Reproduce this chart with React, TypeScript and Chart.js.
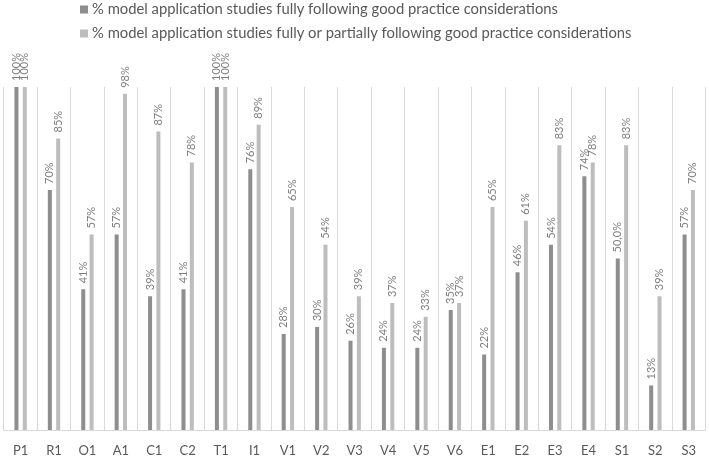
import React, { useEffect, useRef } from "react";
import { Chart, registerables } from "chart.js";

Chart.register(...registerables);

const categories = ["P1","R1","O1","A1","C1","C2","T1","I1","V1","V2","V3","V4","V5","V6","E1","E2","E3","E4","S1","S2","S3"];
const fullyValues = [100,70,41,57,39,41,100,76,28,30,26,24,24,35,22,46,54,74,50,13,57];
const fullyLabels = ["100%","70%","41%","57%","39%","41%","100%","76%","28%","30%","26%","24%","24%","35%","22%","46%","54%","74%","50,0%","13%","57%"];
const partialValues = [100,85,57,98,87,78,100,89,65,54,39,37,33,37,65,61,83,78,83,39,70];
const partialLabels = ["100%","85%","57%","98%","87%","78%","100%","89%","65%","54%","39%","37%","33%","37%","65%","61%","83%","78%","83%","39%","70%"];
const seriesNames = [
  "% model application studies fully following good practice considerations",
  "% model application studies fully or partially following good practice considerations",
];
const seriesColors = ["#8e8e8e", "#bdbdbd"];

const FONT = "Lato, 'Open Sans', sans-serif";

const labelPlugin = {
  id: "barLabels",
  afterDatasetsDraw(chart: any) {
    const ctx = chart.ctx;
    const labelSets = [fullyLabels, partialLabels];
    ctx.save();
    ctx.font = `11px ${FONT}`;
    ctx.fillStyle = "#7f7f7f";
    ctx.textAlign = "left";
    ctx.textBaseline = "middle";
    chart.data.datasets.forEach((_ds: any, di: number) => {
      const meta = chart.getDatasetMeta(di);
      meta.data.forEach((el: any, i: number) => {
        ctx.save();
        ctx.translate(el.x, el.y - 6);
        ctx.rotate(-Math.PI / 2);
        ctx.fillText(labelSets[di][i], 0, 0);
        ctx.restore();
      });
    });
    ctx.restore();
  },
};

const legendPlugin = {
  id: "customLegend",
  afterDraw(chart: any) {
    const ctx = chart.ctx;
    ctx.save();
    ctx.font = `14.8px ${FONT}`;
    ctx.textAlign = "left";
    ctx.textBaseline = "middle";
    const rows = [9.5, 33.5];
    seriesNames.forEach((name, i) => {
      ctx.fillStyle = seriesColors[i];
      ctx.fillRect(80, rows[i] - 4, 8, 8);
      ctx.fillStyle = "#595959";
      ctx.fillText(name, 92, rows[i]);
    });
    ctx.restore();
  },
};

export default function App() {
  const canvasRef = useRef<HTMLCanvasElement>(null);

  useEffect(() => {
    document.body.style.margin = "0";
    const chart = new Chart(canvasRef.current as HTMLCanvasElement, {
      type: "bar",
      data: {
        labels: categories,
        datasets: [
          {
            label: seriesNames[0],
            data: fullyValues,
            backgroundColor: seriesColors[0],
            categoryPercentage: 0.5,
            barPercentage: 0.48,
          },
          {
            label: seriesNames[1],
            data: partialValues,
            backgroundColor: seriesColors[1],
            categoryPercentage: 0.5,
            barPercentage: 0.48,
          },
        ],
      },
      options: {
        animation: false,
        responsive: false,
        maintainAspectRatio: false,
        layout: { padding: { top: 87, left: 0, right: 1, bottom: 3 } },
        plugins: {
          legend: { display: false },
          tooltip: { enabled: false },
        },
        scales: {
          x: {
            grid: { display: true, color: "#d9d9d9", drawTicks: false, offset: true },
            border: { display: true, color: "#d9d9d9" },
            ticks: {
              color: "#595959",
              font: { family: FONT, size: 13 },
              padding: 13,
              maxRotation: 0,
              autoSkip: false,
            },
            afterFit(scale: any) {
              scale.height = 28;
            },
          },
          y: {
            display: false,
            min: 0,
            max: 100,
          },
        },
      },
      plugins: [labelPlugin, legendPlugin],
    });
    return () => chart.destroy();
  }, []);

  return (
    <div style={{ width: 709, height: 461 }}>
      <canvas ref={canvasRef} width={709} height={461} />
    </div>
  );
}
